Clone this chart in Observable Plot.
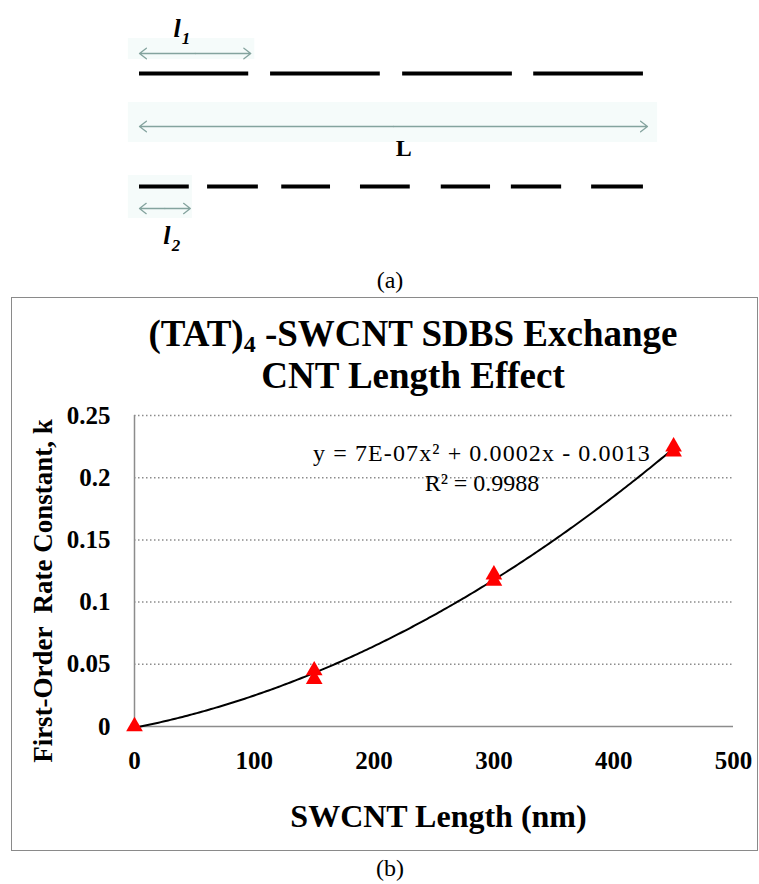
<!DOCTYPE html>
<html><head><meta charset="utf-8">
<script src="https://cdn.jsdelivr.net/npm/d3@7"></script>
<script src="https://cdn.jsdelivr.net/npm/@observablehq/plot@0.6"></script>
<style>
html,body{margin:0;padding:0;background:#fff;}
#page{position:relative;width:759px;height:884px;overflow:hidden;font-family:"Liberation Serif","Times New Roman",serif;background:#fff;}
#page svg{position:absolute;left:0;background:transparent;}
.cap{position:absolute;left:0;width:780px;text-align:center;font-size:24px;line-height:24px;}
#box{position:absolute;left:11px;top:297px;width:747px;height:554px;box-sizing:border-box;border:1.5px solid #8a8a8a;pointer-events:none;}
#title{position:absolute;left:0;width:826px;top:313px;text-align:center;font-weight:bold;font-size:37px;line-height:42px;}
#title sub{font-size:24px;vertical-align:-6px;line-height:0;}
</style></head><body><div id="page"></div>
<script>
// ---------- (a) diagram data: segment extents along total length L (L = 100 units)
const chain1Segments = [[0, 21.5], [25.8, 47.4], [51.8, 73.4], [77.6, 99.2]];
const chain2Segments = [[0, 9.8], [13.4, 23.4], [28.0, 37.6], [43.5, 53.3], [59.4, 69.1], [73.2, 83.1], [89.0, 99.2]];
const lengthArrows = [
  {name: "l1", start: 0, end: 21.9},
  {name: "L", start: 0, end: 100},
  {name: "l2", start: 0, end: 10}
];
const lengthLabels = [
  {name: "l1", main: "l", sub: "1", at: 7.4},
  {name: "l2", main: "l", sub: "2", at: 5.4}
];
const totalLabel = [{name: "L", main: "L", at: 52}];

// ---------- (b) chart data
const lengthNm = [0, 150, 150, 300, 300, 450, 450];
const rateK = [0.000, 0.045, 0.038, 0.122, 0.117, 0.225, 0.221];
const xTicks = [0, 100, 200, 300, 400, 500];
const yTicks = [0, 0.05, 0.1, 0.15, 0.2, 0.25];
const titleLine1 = ["(TAT)", "4", " -SWCNT SDBS Exchange"];
const titleLine2 = "CNT Length Effect";
const xTitle = "SWCNT Length (nm)";
const yTitle = "First-Order  Rate Constant, k";
const equationText = "y = 7E-07x² + 0.0002x - 0.0013";
const r2Text = "R² = 0.9988";
const captionA = "(a)";
const captionB = "(b)";

// ---------- layout (diagram rows, in 10px units)
const rows = {l1Label: 2.8, l1: 5.3, chain1: 7.3, L: 12.6, LLabel: 14.8, chain2: 18.6, l2: 20.8, l2Label: 23.5};
const arrowRow = {l1: rows.l1, L: rows.L, l2: rows.l2};
const labelRow = {l1: rows.l1Label, L: rows.LLabel, l2: rows.l2Label};
const bands = [
  {x1: -2.2, x2: 22.7, y1: 3.8, y2: 5.9},
  {x1: -2.2, x2: 102, y1: 10.2, y2: 14.2},
  {x1: -2.2, x2: 10.4, y1: 17.5, y2: 21.8}
];

const page = document.getElementById("page");
const arrowColor = "#84a39e";

const segRows = [
  ...chain1Segments.map(([a, b]) => ({a, b, row: rows.chain1})),
  ...chain2Segments.map(([a, b]) => ({a, b, row: rows.chain2}))
];
const halfArrows = lengthArrows.flatMap(d => {
  const mid = (d.start + d.end) / 2;
  return [{x1: mid, x2: d.start, y: arrowRow[d.name]}, {x1: mid, x2: d.end, y: arrowRow[d.name]}];
});

const diagram = Plot.plot({
  width: 759, height: 265,
  marginLeft: 139, marginRight: 112, marginTop: 0, marginBottom: 0,
  x: {domain: [0, 100], axis: null},
  y: {domain: [0, 26.5], range: [0, 265], axis: null},
  style: {fontFamily: "Liberation Serif", background: "transparent"},
  marks: [
    Plot.rect(bands, {x1: "x1", x2: "x2", y1: "y1", y2: "y2", fill: "#f5fbfa"}),
    Plot.ruleY(segRows, {y: "row", x1: "a", x2: "b", stroke: "#000", strokeWidth: 4}),
    Plot.arrow(halfArrows, {x1: "x1", x2: "x2", y1: "y", y2: "y", stroke: arrowColor, strokeWidth: 1.3, headLength: 10, headAngle: 75, bend: 0}),
    Plot.text(lengthLabels, {x: "at", y: d => labelRow[d.name], text: "main", fontWeight: "bold", fontStyle: "italic", fontSize: 26, lineAnchor: "middle"}),
    Plot.text(lengthLabels, {x: "at", y: d => labelRow[d.name], text: "sub", dx: 9, dy: 10, fontWeight: "bold", fontStyle: "italic", fontSize: 17, lineAnchor: "middle"}),
    Plot.text(totalLabel, {x: "at", y: d => labelRow[d.name], text: "main", fontWeight: "bold", fontSize: 24, lineAnchor: "middle"})
  ]
});
diagram.style.top = "0px";
page.appendChild(diagram);

const capA = document.createElement("div");
capA.className = "cap"; capA.style.top = "268px"; capA.textContent = captionA;
page.appendChild(capA);

// quadratic least-squares trendline from the data
function quadFit(xs, ys) {
  const S = k => d3.sum(xs, x => x ** k);
  const T = k => d3.sum(xs, (x, i) => x ** k * ys[i]);
  const A = [[S(4), S(3), S(2)], [S(3), S(2), S(1)], [S(2), S(1), xs.length]];
  const b = [T(2), T(1), T(0)];
  const n = 3;
  for (let i = 0; i < n; i++) {
    for (let j = i + 1; j < n; j++) {
      const f = A[j][i] / A[i][i];
      for (let k = i; k < n; k++) A[j][k] -= f * A[i][k];
      b[j] -= f * b[i];
    }
  }
  const c = [0, 0, 0];
  for (let i = n - 1; i >= 0; i--) {
    let s = b[i];
    for (let k = i + 1; k < n; k++) s -= A[i][k] * c[k];
    c[i] = s / A[i][i];
  }
  return c;
}
const [qa, qb, qc] = quadFit(lengthNm, rateK);
const xMax = d3.max(lengthNm);
const trend = d3.range(0, xMax + 0.001, 2).map(x => ({x, y: qa * x * x + qb * x + qc}));
const points = lengthNm.map((x, i) => ({x, y: rateK[i]}));

const chart = Plot.plot({
  width: 759, height: 436,
  marginLeft: 134, marginRight: 26, marginTop: 15, marginBottom: 110,
  x: {domain: [0, 500]},
  y: {domain: [0, 0.25]},
  style: {fontFamily: "Liberation Serif", background: "transparent", color: "#000"},
  marks: [
    Plot.gridY(yTicks.slice(1), {stroke: "#8c8c8c", strokeOpacity: 1, strokeWidth: 1.5, strokeDasharray: "1.5,2.5"}),
    Plot.ruleX([0], {stroke: "#8c8c8c", strokeWidth: 1.5}),
    Plot.ruleY([0], {stroke: "#8c8c8c", strokeWidth: 1.5}),
    Plot.axisX({ticks: xTicks, tickSize: 0, tickPadding: 25, fontSize: 25, fontWeight: "bold", label: null, tickFormat: d => String(d)}),
    Plot.axisY({ticks: yTicks, tickSize: 0, tickPadding: 24, fontSize: 25, fontWeight: "bold", label: null, tickFormat: d => d === 0 ? "0" : String(+d.toFixed(2))}),
    Plot.line(trend, {x: "x", y: "y", stroke: "#000", strokeWidth: 2}),
    Plot.dot(points, {x: "x", y: "y", symbol: "triangle", r: 6.2, fill: "#ff0000", stroke: "none"}),
    Plot.text([equationText], {text: d => d, frameAnchor: "top", textAnchor: "middle", lineAnchor: "middle", dx: 48, dy: 38, fontSize: 24}),
    Plot.text([r2Text], {text: d => d, frameAnchor: "top", textAnchor: "middle", lineAnchor: "middle", dx: 48, dy: 68, fontSize: 24}),
    Plot.text([xTitle], {text: d => d, frameAnchor: "bottom", textAnchor: "middle", lineAnchor: "middle", dx: 4.5, dy: 90, fontSize: 32, fontWeight: "bold"}),
    Plot.text([yTitle], {text: d => d, frameAnchor: "left", textAnchor: "middle", lineAnchor: "middle", dx: -91, dy: 20, rotate: -90, fontSize: 27, fontWeight: "bold"})
  ]
});
chart.style.top = "400px";
page.appendChild(chart);
// widen the trendline equation's spacing as in the reference
chart.querySelectorAll("text").forEach(t => {
  if (t.textContent === equationText) t.setAttribute("letter-spacing", "1.1");
});

const title = document.createElement("div");
title.id = "title";
title.append(titleLine1[0]);
const sub = document.createElement("sub"); sub.textContent = titleLine1[1];
title.append(sub, titleLine1[2], document.createElement("br"), titleLine2);
page.appendChild(title);

const box = document.createElement("div");
box.id = "box";
page.appendChild(box);

const capB = document.createElement("div");
capB.className = "cap"; capB.style.top = "856px"; capB.textContent = captionB;
page.appendChild(capB);
</script></body></html>
